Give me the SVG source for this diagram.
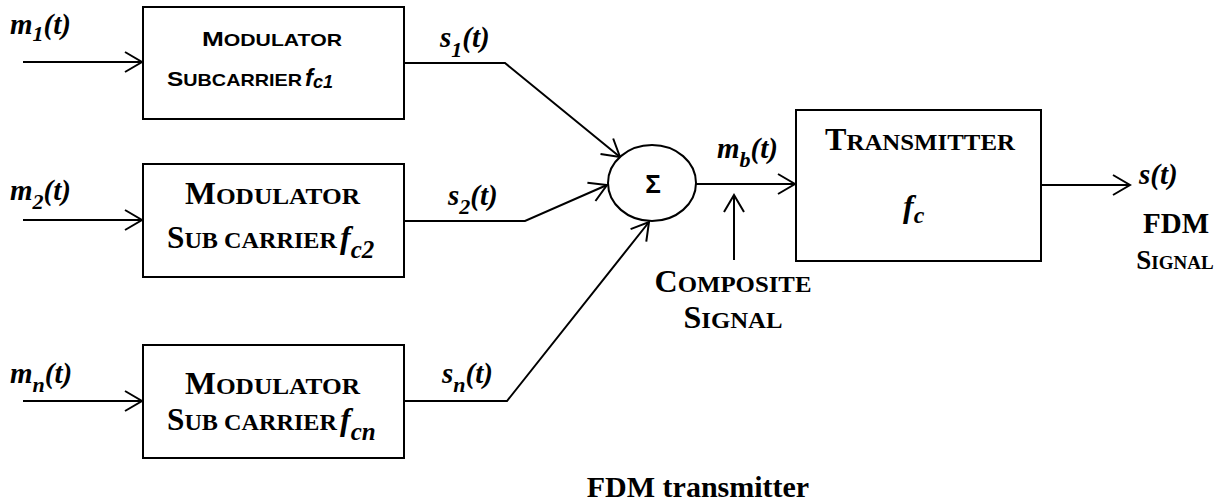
<svg xmlns="http://www.w3.org/2000/svg" width="1217" height="504" viewBox="0 0 1217 504">
<defs>
<style>
.box{fill:#fff;stroke:#000;stroke-width:2}
.ln{fill:none;stroke:#000;stroke-width:2}
.ser{font-family:"Liberation Serif","Times New Roman",serif;font-weight:bold;fill:#000}
.san{font-family:"Liberation Sans",Arial,sans-serif;font-weight:bold;fill:#000}
.it{font-style:italic}
</style>
<marker id="ah" markerUnits="userSpaceOnUse" markerWidth="40" markerHeight="40" refX="0" refY="0" viewBox="-20 -20 40 40" orient="auto">
<path d="M-17,-10 L0,0 L-17,10" fill="none" stroke="#000" stroke-width="2"/>
</marker>
</defs>
<rect width="1217" height="504" fill="#fff"/>

<g id="connectors">
<line class="ln" x1="23" y1="62" x2="142" y2="62" marker-end="url(#ah)"/>
<line class="ln" x1="23" y1="220" x2="142" y2="220" marker-end="url(#ah)"/>
<line class="ln" x1="23" y1="401" x2="142" y2="401" marker-end="url(#ah)"/>
<polyline class="ln" points="404,63 505,63 620,157" marker-end="url(#ah)"/>
<polyline class="ln" points="404,221 525,221 607,185" marker-end="url(#ah)"/>
<polyline class="ln" points="404,401 507,401 649,222" marker-end="url(#ah)"/>
<line class="ln" x1="696" y1="184" x2="795" y2="184" marker-end="url(#ah)"/>
<line class="ln" x1="734" y1="260" x2="734" y2="195" marker-end="url(#ah)"/>
<line class="ln" x1="1041" y1="185" x2="1130" y2="185" marker-end="url(#ah)"/>
</g>

<g id="mod1">
<rect class="box" x="143" y="7" width="261" height="112"/>
<text class="san" x="202" y="46" textLength="140" lengthAdjust="spacingAndGlyphs"><tspan font-size="21">M</tspan><tspan font-size="17">ODULATOR</tspan></text>
<text class="san" x="167" y="86" textLength="135" lengthAdjust="spacingAndGlyphs"><tspan font-size="21">S</tspan><tspan font-size="17">UBCARRIER</tspan></text>
<text class="san it" x="305" y="86" font-size="24">f<tspan font-size="18" dy="2">c1</tspan></text>
</g>

<g id="mod2">
<rect class="box" x="143" y="164" width="261" height="113"/>
<text class="ser" x="185" y="204" textLength="175" lengthAdjust="spacingAndGlyphs"><tspan font-size="31">M</tspan><tspan font-size="24">ODULATOR</tspan></text>
<text class="ser" x="167" y="248" textLength="170" lengthAdjust="spacingAndGlyphs"><tspan font-size="31">S</tspan><tspan font-size="24">UB CARRIER</tspan></text>
<text class="ser it" x="340" y="248" font-size="32">f<tspan font-size="25" dy="10">c2</tspan></text>
</g>

<g id="modn">
<rect class="box" x="143" y="345" width="261" height="113"/>
<text class="ser" x="185" y="394" textLength="175" lengthAdjust="spacingAndGlyphs"><tspan font-size="31">M</tspan><tspan font-size="24">ODULATOR</tspan></text>
<text class="ser" x="167" y="430" textLength="170" lengthAdjust="spacingAndGlyphs"><tspan font-size="31">S</tspan><tspan font-size="24">UB CARRIER</tspan></text>
<text class="ser it" x="340" y="430" font-size="32">f<tspan font-size="25" dy="10">cn</tspan></text>
</g>

<g id="sum">
<ellipse class="box" cx="652" cy="183" rx="44" ry="38"/>
<text class="san" x="653" y="193" font-size="26" text-anchor="middle">Σ</text>
</g>

<g id="transmitter">
<rect class="box" x="796" y="110" width="245" height="151"/>
<text class="ser" x="825" y="150" textLength="190" lengthAdjust="spacingAndGlyphs"><tspan font-size="31">T</tspan><tspan font-size="24">RANSMITTER</tspan></text>
<text class="ser it" x="903" y="217" font-size="32">f<tspan font-size="24" dy="6">c</tspan></text>
</g>

<g id="labels">
<text class="ser it" x="10" y="34" font-size="29">m<tspan font-size="22" dy="7">1</tspan><tspan dy="-7">(t)</tspan></text>
<text class="ser it" x="10" y="200" font-size="29">m<tspan font-size="22" dy="9">2</tspan><tspan dy="-9">(t)</tspan></text>
<text class="ser it" x="10" y="383" font-size="29">m<tspan font-size="22" dy="9">n</tspan><tspan dy="-9">(t)</tspan></text>
<text class="ser it" x="440" y="47" font-size="29">s<tspan font-size="22" dy="10">1</tspan><tspan dy="-10">(t)</tspan></text>
<text class="ser it" x="448" y="205" font-size="29">s<tspan font-size="22" dy="9">2</tspan><tspan dy="-9">(t)</tspan></text>
<text class="ser it" x="442" y="383" font-size="29">s<tspan font-size="22" dy="9">n</tspan><tspan dy="-9">(t)</tspan></text>
<text class="ser it" x="717" y="158" font-size="29">m<tspan font-size="22" dy="9">b</tspan><tspan dy="-9">(t)</tspan></text>
<text class="ser it" x="1139" y="184" font-size="29">s(t)</text>
<text class="ser" x="733" y="292" text-anchor="middle" textLength="157" lengthAdjust="spacingAndGlyphs"><tspan font-size="31">C</tspan><tspan font-size="24">OMPOSITE</tspan></text>
<text class="ser" x="733" y="328" text-anchor="middle" textLength="99" lengthAdjust="spacingAndGlyphs"><tspan font-size="31">S</tspan><tspan font-size="24">IGNAL</tspan></text>
<text class="ser" x="1176" y="233" font-size="29" text-anchor="middle">FDM</text>
<text class="ser" x="1175" y="269" text-anchor="middle"><tspan font-size="27">S</tspan><tspan font-size="19">IGNAL</tspan></text>
<text class="ser" x="698" y="497" font-size="30" text-anchor="middle">FDM transmitter</text>
</g>
</svg>
